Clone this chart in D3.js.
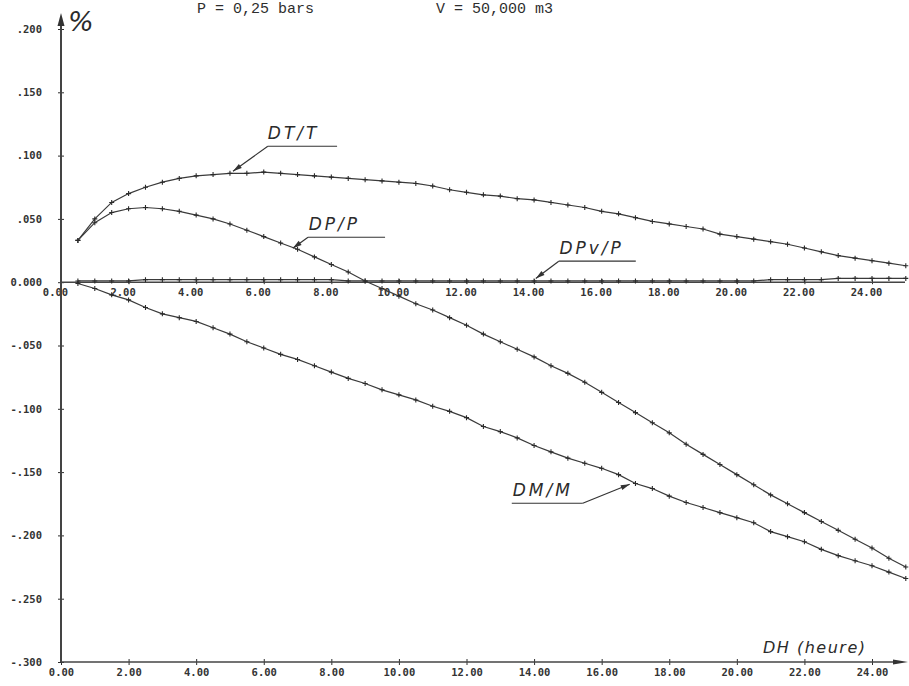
<!DOCTYPE html>
<html>
<head>
<meta charset="utf-8">
<script src="https://cdn.jsdelivr.net/npm/d3@7/dist/d3.min.js"></script>
<style>
  html, body { margin: 0; padding: 0; background: #fff; }
  svg { display: block; }
  .tk text { font-family: "DejaVu Sans Mono", monospace; font-weight: bold; font-size: 10.5px; fill: #333; }
  .hand { font-family: "DejaVu Sans", sans-serif; font-style: italic; fill: #2b2b2b; }
</style>
</head>
<body>
<svg id="chart" width="909" height="686"></svg>
<script>
// ---------------- data ----------------
const hours = [0.5,1.0,1.5,2.0,2.5,3.0,3.5,4.0,4.5,5.0,5.5,6.0,6.5,7.0,7.5,8.0,8.5,9.0,9.5,10.0,
  10.5,11.0,11.5,12.0,12.5,13.0,13.5,14.0,14.5,15.0,15.5,16.0,16.5,17.0,17.5,18.0,18.5,19.0,19.5,20.0,
  20.5,21.0,21.5,22.0,22.5,23.0,23.5,24.0,24.5,25.0];

const dtT = [0.033,0.050,0.063,0.070,0.075,0.079,0.082,0.084,0.085,0.086,0.086,0.087,0.086,0.085,0.084,0.083,0.082,0.081,0.080,0.079,
  0.078,0.076,0.073,0.071,0.069,0.068,0.066,0.065,0.063,0.061,0.059,0.056,0.054,0.051,0.048,0.046,0.044,0.042,0.038,0.036,
  0.034,0.032,0.030,0.027,0.024,0.021,0.019,0.017,0.015,0.013];

const dpP = [0.033,0.047,0.055,0.058,0.059,0.058,0.056,0.053,0.050,0.046,0.041,0.036,0.031,0.026,0.020,0.014,0.008,0.001,-0.005,-0.011,
  -0.017,-0.022,-0.028,-0.034,-0.041,-0.047,-0.053,-0.059,-0.066,-0.072,-0.079,-0.087,-0.095,-0.103,-0.111,-0.119,-0.128,-0.136,-0.144,-0.152,
  -0.160,-0.168,-0.175,-0.182,-0.189,-0.196,-0.203,-0.210,-0.218,-0.225];

const dpvP = [0.001,0.001,0.001,0.001,0.002,0.002,0.002,0.002,0.002,0.002,0.002,0.002,0.002,0.002,0.002,0.002,0.001,0.001,0.001,0.001,
  0.001,0.001,0.001,0.001,0.001,0.001,0.001,0.001,0.001,0.001,0.001,0.001,0.001,0.001,0.001,0.001,0.001,0.001,0.001,0.001,
  0.001,0.002,0.002,0.002,0.002,0.003,0.003,0.003,0.003,0.003];

const dmM = [-0.001,-0.005,-0.010,-0.014,-0.020,-0.025,-0.028,-0.031,-0.036,-0.041,-0.047,-0.052,-0.057,-0.061,-0.066,-0.071,-0.076,-0.080,-0.085,-0.089,
  -0.093,-0.098,-0.102,-0.107,-0.114,-0.118,-0.123,-0.129,-0.134,-0.139,-0.143,-0.147,-0.152,-0.159,-0.163,-0.169,-0.174,-0.178,-0.182,-0.186,
  -0.190,-0.197,-0.201,-0.205,-0.211,-0.216,-0.220,-0.224,-0.229,-0.234];

const seriesNames = ["DT/T", "DP/P", "DPv/P", "DM/M"];

const xTickValues = [0,2,4,6,8,10,12,14,16,18,20,22,24];
const xTickLabels = ["0.00","2.00","4.00","6.00","8.00","10.00","12.00","14.00","16.00","18.00","20.00","22.00","24.00"];
const yTickValues = [0.2,0.15,0.1,0.05,0,-0.05,-0.1,-0.15,-0.2,-0.25,-0.3];
const yTickLabels = [".200",".150",".100",".050","0.000","-.050","-.100","-.150","-.200","-.250","-.300"];

const headerLeft = "P = 0,25 bars";
const headerRight = "V = 50,000 m3";
const yUnit = "%";
const xTitle = "DH (heure)";

// ---------------- drawing ----------------
const svg = d3.select("#chart");
const ink = "#2e2e2e";

const x = d3.scaleLinear().domain([0, 24]).range([61, 872]);
const y = d3.scaleLinear().domain([-0.3, 0.2]).range([662, 29]);

// header
svg.append("text").attr("x", 197).attr("y", 13)
  .attr("font-family", "Liberation Mono, monospace").attr("font-size", 15).attr("fill", ink)
  .text(headerLeft);
svg.append("text").attr("x", 436).attr("y", 13)
  .attr("font-family", "Liberation Mono, monospace").attr("font-size", 15).attr("fill", ink)
  .text(headerRight);

// y axis
const yAxis = svg.append("g").attr("class", "tk").attr("transform", `translate(${x(0)},0)`)
  .call(d3.axisLeft(y).tickValues(yTickValues).tickFormat((d, i) => yTickLabels[i]).tickSize(3).tickPadding(16));
yAxis.select(".domain").remove();
yAxis.selectAll(".tick line").attr("x2", 3).attr("x1", -3).attr("stroke", ink);

// bottom x axis
const xAxis = svg.append("g").attr("class", "tk").attr("transform", `translate(0,${y(-0.3)})`)
  .call(d3.axisBottom(x).tickValues(xTickValues).tickFormat((d, i) => xTickLabels[i]).tickSize(3).tickPadding(4));
xAxis.select(".domain").remove();
xAxis.selectAll(".tick line").attr("y1", -3).attr("stroke", ink);

// zero x axis
const zAxis = svg.append("g").attr("class", "tk").attr("transform", `translate(0,${y(0)})`)
  .call(d3.axisBottom(x).tickValues(xTickValues).tickFormat((d, i) => xTickLabels[i]).tickSize(2).tickPadding(4));
zAxis.select(".domain").remove();
zAxis.selectAll(".tick line").attr("y1", -3).attr("stroke", ink);
zAxis.selectAll(".tick text").attr("dx", -6);

// axis lines with arrows
svg.append("line").attr("x1", x(0)).attr("x2", x(0)).attr("y1", y(-0.3)).attr("y2", 20)
  .attr("stroke", "#444").attr("stroke-width", 2);
svg.append("path").attr("d", `M${x(0)},13 L${x(0) - 3.5},26 L${x(0) + 3.5},26 Z`).attr("fill", "#333");

svg.append("line").attr("x1", x(0)).attr("x2", 898).attr("y1", y(-0.3)).attr("y2", y(-0.3))
  .attr("stroke", "#444").attr("stroke-width", 1.5);
svg.append("path").attr("d", `M908,${y(-0.3)} L893,${y(-0.3) - 2.5} L893,${y(-0.3) + 2.5} Z`).attr("fill", "#333");

svg.append("line").attr("x1", x(0)).attr("x2", 905).attr("y1", y(0)).attr("y2", y(0))
  .attr("stroke", "#444").attr("stroke-width", 1.5);

// unit + axis title
svg.append("text").attr("class", "hand").attr("x", 68).attr("y", 31)
  .attr("font-size", 27).attr("font-style", "normal").text(yUnit);
svg.append("text").attr("class", "hand").attr("x", 763).attr("y", 653)
  .attr("font-size", 16).attr("letter-spacing", 1.5).text(xTitle);

// series
const allSeries = [dtT, dpP, dpvP, dmM];
const line = d3.line().x((d, i) => x(hours[i])).y(d => y(d));
const plus = "M-2.5,0H2.5M0,-2.5V2.5";

allSeries.forEach((vals, si) => {
  const g = svg.append("g");
  g.append("path").attr("d", line(vals)).attr("fill", "none").attr("stroke", "#3a3a3a").attr("stroke-width", 1.2);
  g.selectAll("path.m").data(vals).join("path").attr("class", "m")
    .attr("transform", (d, i) => `translate(${x(hours[i])},${y(d)})`)
    .attr("d", plus).attr("stroke", "#2a2a2a").attr("stroke-width", 1.1);
});

// annotations (positioned in data space)
const notes = [
  { name: seriesNames[0], tip: [5.09, 0.0877], lineY: 0.1074, h0: 6.12, h1: 8.17, textH: 6.12, textV: 0.1135 },
  { name: seriesNames[1], tip: [6.86, 0.0269], lineY: 0.0355, h0: 7.31, h1: 9.59, textH: 7.33, textV: 0.0415 },
  { name: seriesNames[2], tip: [14.05, 0.0030], lineY: 0.0166, h0: 14.73, h1: 17.01, textH: 14.75, textV: 0.0225 },
  { name: seriesNames[3], tip: [16.83, -0.1596], lineY: -0.1746, h0: 13.34, h1: 15.44, textH: 13.37, textV: -0.1685, right: true }
];
notes.forEach(n => {
  const startH = n.right ? n.h1 : n.h0;
  svg.append("line").attr("x1", x(n.h0)).attr("x2", x(n.h1)).attr("y1", y(n.lineY)).attr("y2", y(n.lineY))
    .attr("stroke", "#333").attr("stroke-width", 1.2);
  const sx = x(startH), sy = y(n.lineY), tx = x(n.tip[0]), ty = y(n.tip[1]);
  svg.append("line").attr("x1", sx).attr("y1", sy).attr("x2", tx).attr("y2", ty)
    .attr("stroke", "#333").attr("stroke-width", 1.2);
  const ang = Math.atan2(ty - sy, tx - sx);
  const L = 9, W = 2.5;
  const bx = tx - L * Math.cos(ang), by = ty - L * Math.sin(ang);
  svg.append("path").attr("d",
    `M${tx},${ty} L${bx + W * Math.sin(ang)},${by - W * Math.cos(ang)} L${bx - W * Math.sin(ang)},${by + W * Math.cos(ang)} Z`)
    .attr("fill", "#333");
  svg.append("text").attr("class", "hand").attr("x", x(n.textH)).attr("y", y(n.textV))
    .attr("font-size", 17).attr("letter-spacing", 3).text(n.name);
});
</script>
</body>
</html>
